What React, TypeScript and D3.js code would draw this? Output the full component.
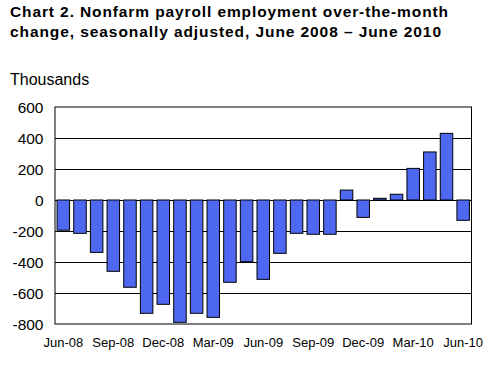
import React from "react";
import * as d3 from "d3";

const months = [
  "Jun-08","Jul-08","Aug-08","Sep-08","Oct-08","Nov-08","Dec-08","Jan-09","Feb-09",
  "Mar-09","Apr-09","May-09","Jun-09","Jul-09","Aug-09","Sep-09","Oct-09","Nov-09",
  "Dec-09","Jan-10","Feb-10","Mar-10","Apr-10","May-10","Jun-10",
];
const changes = [
  -195, -215, -338, -460, -563, -731, -673, -789, -731,
  -757, -531, -398, -512, -344, -215, -221, -221, 64,
  -112, 11, 37, 204, 310, 430, -131,
];
const yTicks = [600, 400, 200, 0, -200, -400, -600, -800];
const xTickLabels = ["Jun-08","Sep-08","Dec-08","Mar-09","Jun-09","Sep-09","Dec-09","Mar-10","Jun-10"];

const titleLines = [
  "Chart 2. Nonfarm payroll employment over-the-month",
  "change, seasonally adjusted, June 2008 \u2013 June 2010",
];

export default function App() {
  const W = 500, H = 366;
  const left = 55, right = 471.5, top = 107, bottom = 324;
  const x = d3.scaleBand<string>().domain(months).range([left, right]).paddingInner(0.25).paddingOuter(0.125);
  const y = d3.scaleLinear().domain([-800, 600]).range([bottom, top]);
  const font = "Liberation Sans, Arial, sans-serif";
  return (
    <svg width={W} height={H} style={{ position: "absolute", left: 0, top: 0, background: "#fff" }} fontFamily={font}>
      <rect x={0} y={0} width={W} height={H} fill="#fff" />
      <text x={10} y={17} fontSize={15.5} fontWeight="bold" textLength={438} lengthAdjust="spacing">{titleLines[0]}</text>
      <text x={10} y={37} fontSize={15.5} fontWeight="bold" textLength={431} lengthAdjust="spacing">{titleLines[1]}</text>
      <text x={10} y={85} fontSize={16}>Thousands</text>
      {yTicks.map((t) => (
        <g key={t}>
          {t !== 600 && t !== -800 && (
            <line x1={left} x2={right} y1={Math.round(y(t)) + 0.5} y2={Math.round(y(t)) + 0.5} stroke="#000" strokeWidth={1} />
          )}
          <text x={43.5} y={y(t)} dy="0.36em" textAnchor="end" fontSize={15.5}>{t}</text>
        </g>
      ))}
      {months.map((m, i) => {
        const v = changes[i];
        const y0 = y(Math.max(0, v));
        const y1 = y(Math.min(0, v));
        return (
          <rect key={m} x={x(m)} y={y0} width={x.bandwidth()} height={Math.max(0.5, y1 - y0)}
            fill="#4F68F2" stroke="#000" strokeWidth={1} />
        );
      })}
      <rect x={left} y={top} width={right - left} height={bottom - top} fill="none" stroke="#000" strokeWidth={1} />
      {xTickLabels.map((m) => (
        <text key={m} x={(x(m) as number) + x.bandwidth() / 2} y={347} textAnchor="middle" fontSize={13}>{m}</text>
      ))}
    </svg>
  );
}
